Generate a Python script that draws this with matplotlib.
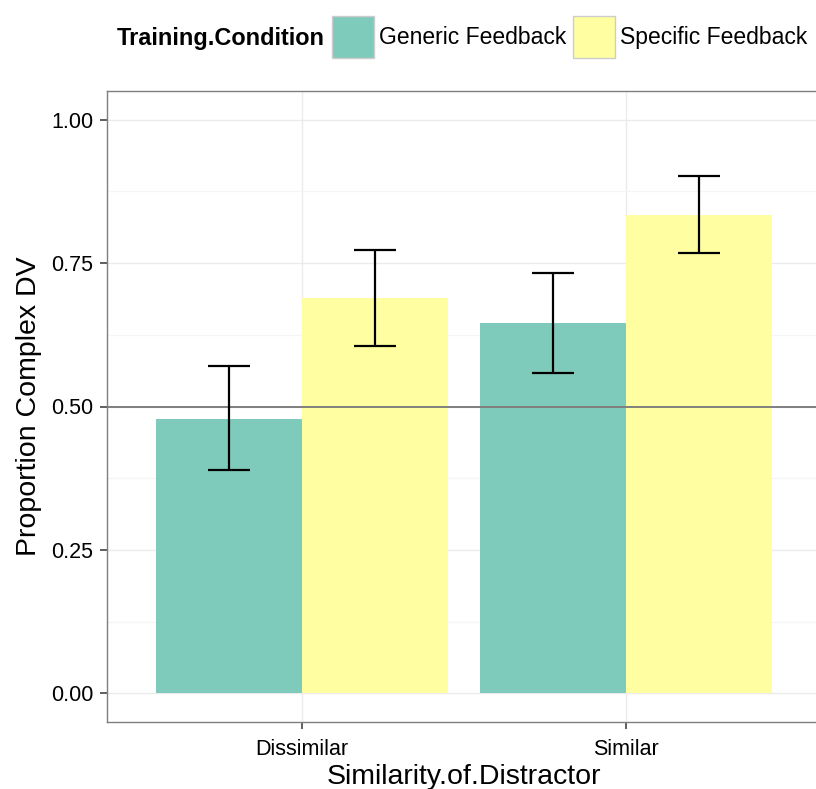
import numpy as np
import matplotlib
matplotlib.use('Agg')
import matplotlib.pyplot as plt
from matplotlib.patches import Patch

plt.rcParams['font.family'] = ['Liberation Sans', 'DejaVu Sans']

# data
similarity = ['Dissimilar', 'Similar']
conditions = ['Generic Feedback', 'Specific Feedback']
generic = [0.479, 0.645]
generic_low = [0.390, 0.559]
generic_high = [0.570, 0.732]
specific = [0.690, 0.833]
specific_low = [0.606, 0.767]
specific_high = [0.773, 0.901]
colors = ['#7fcbbb', '#ffffa2']

fig = plt.figure(figsize=(8.16, 7.89), dpi=100)
ax = fig.add_axes([107/816, 1 - 722/789, (821 - 107)/816, (722 - 91)/789])

x = np.arange(len(similarity))
w = 0.45

# grid first so bars sit on top
ax.set_axisbelow(True)
ax.set_yticks([0.125, 0.375, 0.625, 0.875], minor=True)
ax.grid(which='major', color='#ebebeb', lw=1.0)
ax.grid(which='minor', axis='y', color='#f5f5f5', lw=1.0)

series = [(generic, generic_low, generic_high), (specific, specific_low, specific_high)]
for i, (vals, lo, hi) in enumerate(series):
    xpos = x + (i - 0.5) * w
    vals = np.array(vals)
    ax.bar(xpos, vals, width=w, color=colors[i], edgecolor='none', zorder=2)
    yerr = [vals - np.array(lo), np.array(hi) - vals]
    ax.errorbar(xpos, vals, yerr=yerr, fmt='none', ecolor='black',
                elinewidth=1.6, capsize=14.8, capthick=1.6, zorder=4)

ax.axhline(0.5, color='#7f7f7f', lw=1.4, zorder=3)

ax.set_xlim(-0.6, 1.6)
ax.set_ylim(-0.05, 1.05)
ax.set_xticks(x)
ax.set_xticklabels(similarity)
ax.set_yticks([0, 0.25, 0.5, 0.75, 1.0])
ax.set_yticklabels(['0.00', '0.25', '0.50', '0.75', '1.00'])
ax.tick_params(which='major', labelsize=15.5, length=5, width=1.1, color='#333333', pad=5)
ax.tick_params(axis='x', pad=7)
ax.tick_params(which='minor', length=0)

for s in ax.spines.values():
    s.set_color('#7f7f7f')
    s.set_linewidth(1.0)

ax.set_xlabel('Similarity.of.Distractor', fontsize=20.5, labelpad=3)
ax.set_ylabel('Proportion Complex DV', fontsize=20.5, labelpad=6)

# legend on top, ggplot style
handles = [Patch(facecolor=c, edgecolor='#cccccc', lw=1.0) for c in colors]
fig.text(117/816, 1 - 38/789, 'Training.Condition', fontsize=16.9, fontweight='bold',
         ha='left', va='center')
fig.legend(handles, conditions, ncol=2, loc='center left',
           bbox_to_anchor=(332/816, 1 - 37/789), frameon=False, fontsize=16.5,
           handlelength=1.85, handleheight=2.44, handletextpad=0.2,
           columnspacing=0.28, borderpad=0, borderaxespad=0)

fig.savefig('out.png', dpi=100)
